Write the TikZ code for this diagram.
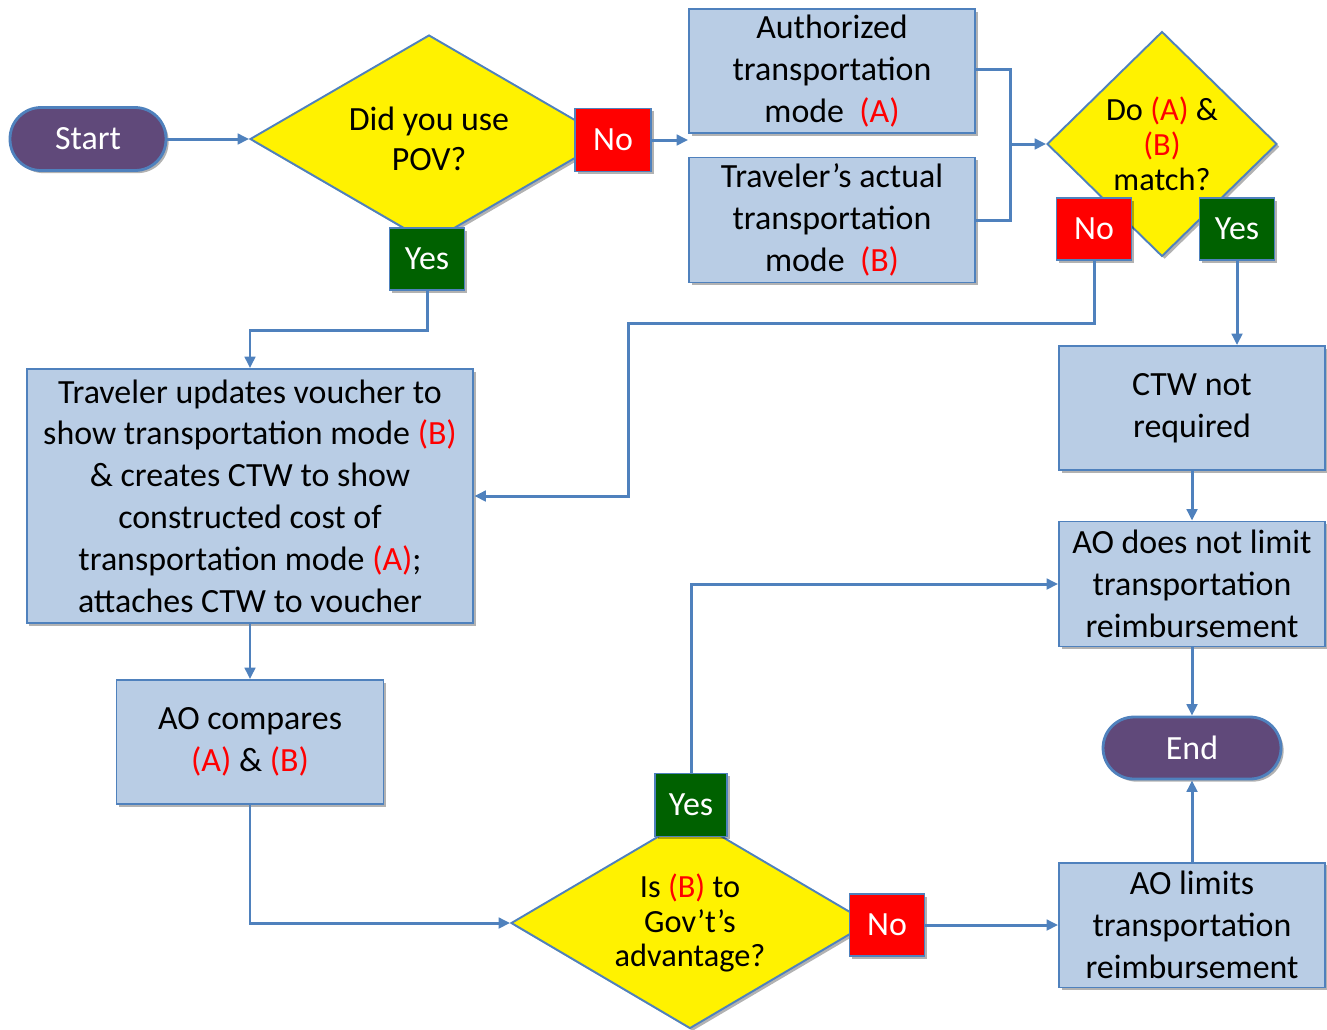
\documentclass[tikz,border=0pt]{standalone}
\usepackage{fontspec}
\setmainfont{Carlito}
\usetikzlibrary{shapes.geometric,arrows.meta,shadows}
\definecolor{boxc}{RGB}{185,205,229}
\definecolor{bordc}{RGB}{79,129,189}
\definecolor{purp}{RGB}{96,73,122}
\definecolor{ygreen}{RGB}{0,97,0}
\newcommand\colA{\textcolor{red}{(A)}}
\newcommand\colB{\textcolor{red}{(B)}}
\tikzset{
  shd/.style={drop shadow={shadow xshift=1.5pt,shadow yshift=-1.5pt,opacity=0.3,fill=black}},
  box/.style={shd,draw=bordc,fill=boxc,line width=1.1pt,align=center,inner sep=0pt,
     font=\fontsize{19.3}{23.8}\selectfont},
  term/.style={shd,draw=bordc,fill=purp,line width=1.6pt,rounded corners=0.62cm,
     text=white,inner sep=0pt,font=\fontsize{19.3}{23.8}\selectfont},
  tag/.style={shd,draw=bordc,line width=1.1pt,text=white,inner sep=0pt,
     minimum width=1.5cm,minimum height=1.24cm,font=\fontsize{19.3}{23.8}\selectfont},
  notag/.style={tag,fill=red},
  yestag/.style={tag,fill=ygreen},
  dec/.style={shd,diamond,draw=bordc,fill=yellow,line width=1.1pt,align=center,inner sep=0pt},
  conn/.style={draw=bordc,line width=1.7pt},
  arr/.style={conn,-{Triangle[length=6.5pt,width=6pt]}},
}
\begin{document}
\begin{tikzpicture}[x=0.02cm,y=-0.02cm]
\useasboundingbox (0,0) rectangle (1327,1029);
% terminals
\node[term,minimum width=3.12cm,minimum height=1.26cm] (start) at (88,139) {Start};
\node[term,minimum width=3.56cm,minimum height=1.24cm] (end) at (1192,748) {End};
% decisions
\node[dec,aspect=1.72,minimum width=7.16cm,minimum height=4.16cm,
  font=\fontsize{19.3}{22.7}\selectfont] (d1) at (429,139) {Did you use\\POV?};
\node[dec,aspect=1,minimum width=4.6cm,minimum height=4.5cm,
  font=\fontsize{18.4}{19.8}\selectfont] (d2) at (1162,144) {Do \colA{} \&\\\colB\\match?};
\node[dec,aspect=1.7,minimum width=7.16cm,minimum height=4.22cm,
  font=\fontsize{18.4}{19.8}\selectfont] (d3) at (690,923) {Is \colB{} to\\Gov’t’s\\advantage?};
% process boxes
\node[box,minimum width=5.72cm,minimum height=2.48cm] (auth) at (832,71) {Authorized\\transportation\\mode\ \ \colA};
\node[box,minimum width=5.72cm,minimum height=2.5cm] (trav) at (832,220) {Traveler’s actual\\transportation\\mode\ \ \colB};
\node[box,minimum width=8.94cm,minimum height=5.08cm] (upd) at (250,496) {Traveler updates voucher to\\show transportation mode \colB\\\& creates CTW to show\\constructed cost of\\transportation mode \colA;\\attaches CTW to voucher};
\node[box,minimum width=5.34cm,minimum height=2.48cm] (cmp) at (250,742) {AO compares\\\colA{} \& \colB};
\node[box,minimum width=5.32cm,minimum height=2.48cm] (ctw) at (1192,408) {CTW not\\required};
\node[box,minimum width=5.32cm,minimum height=2.5cm] (aonl) at (1192,584) {AO does not limit\\transportation\\reimbursement};
\node[box,minimum width=5.32cm,minimum height=2.5cm] (aol) at (1192,925) {AO limits\\transportation\\reimbursement};
% tags
\node[notag,minimum width=1.52cm,minimum height=1.26cm] (no1) at (613,140) {No};
\node[yestag] (yes1) at (427,259) {Yes};
\node[notag] (no2) at (1094,229) {No};
\node[yestag] (yes2) at (1237,229) {Yes};
\node[yestag,minimum width=1.44cm,minimum height=1.26cm] (yes3) at (691,805) {Yes};
\node[notag] (no3) at (887,925) {No};
% junction coordinates
\coordinate (jb) at (1010,144);
\coordinate (c1) at (628,323);
% connectors
\draw[arr] (start) -- (d1.west);
\draw[arr] (no1.east) -- (no1.east -| auth.west);
\draw[conn] (auth.east |- 0,69) -| (jb) |- (trav.east);
\draw[arr] (jb) -- (d2.west);
\draw[arr] (no2.south) |- (c1) |- (upd.east);
\draw[arr] (yes2.south) -- (yes2.south |- ctw.north);
\draw[arr] (yes1.south) -- ++(0,40) -| (upd.north);
\draw[arr] (upd.south) -- (cmp.north);
\draw[arr] (cmp.south) |- (d3.west);
\draw[arr] (yes3.north) |- (aonl.west);
\draw[arr] (no3.east) -- (no3.east -| aol.west);
\draw[arr] (ctw.south) -- (aonl.north);
\draw[arr] (aonl.south) -- (end.north);
\draw[arr] (aol.north) -- (end.south);
\end{tikzpicture}
\end{document}
